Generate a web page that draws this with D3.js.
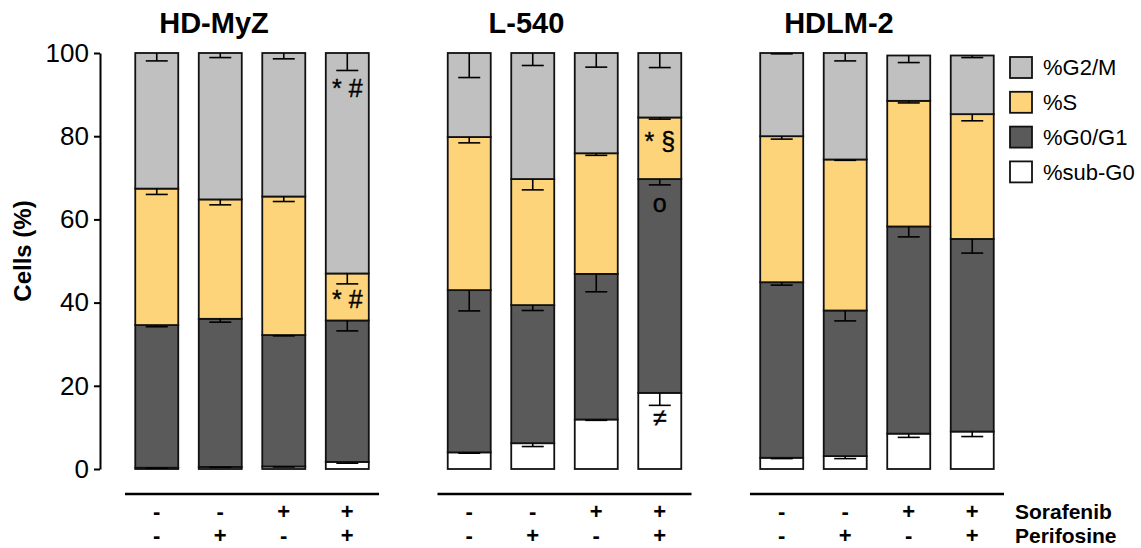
<!DOCTYPE html>
<html>
<head>
<meta charset="utf-8">
<script src="https://cdn.jsdelivr.net/npm/d3@7"></script>
<style>
  html, body { margin: 0; padding: 0; background: #fff; }
  svg { display: block; font-family: Arial, "Liberation Sans", sans-serif; }
</style>
</head>
<body>
<svg id="chart" width="1141" height="548"></svg>
<script>
// Cell lines (one panel each) and treatment conditions
const cellLines = ["HD-MyZ", "L-540", "HDLM-2"];
const conditions = ["c1", "c2", "c3", "c4"];
const sorafenib  = ["-", "-", "+", "+"];
const perifosine = ["-", "+", "-", "+"];

// Cell-cycle phases, stacked bottom to top
const phases = ["%sub-G0", "%G0/G1", "%S", "%G2/M"];
const legendOrder = ["%G2/M", "%S", "%G0/G1", "%sub-G0"];

// Mean % of cells per phase, [cell line][condition] -> [sub-G0, G0/G1, S, G2/M]
const subG0 = [[0.3, 0.5, 0.6, 1.7], [4.0, 6.2, 11.9, 18.3], [2.7, 3.1, 8.5, 9.0]];
const g0g1  = [[34.3, 35.6, 31.6, 34.0], [39.0, 33.2, 35.0, 51.4], [42.2, 35.0, 49.8, 46.3]];
const sPhase = [[32.8, 28.7, 33.3, 11.3], [36.8, 30.3, 29.0, 14.8], [35.1, 36.3, 30.2, 30.0]];
const g2m   = [[32.6, 35.2, 34.5, 53.0], [20.2, 30.3, 24.1, 15.5], [20.0, 25.6, 10.9, 14.1]];

// Standard deviations, same layout
const subG0Err = [[0.1, 0.1, 0.1, 0.3], [0.2, 0.8, 0.2, 3.0], [0.2, 0.6, 0.9, 1.2]];
const g0g1Err  = [[0.4, 0.8, 0.2, 2.5], [5.0, 1.3, 4.3, 1.4], [0.7, 2.5, 2.5, 3.4]];
const sErr     = [[1.4, 1.3, 1.2, 2.5], [1.4, 2.6, 0.5, 0.4], [0.7, 0.2, 0.5, 1.6]];
const g2mErr   = [[1.9, 1.1, 1.4, 4.2], [5.9, 3.0, 3.4, 3.5], [0.2, 1.9, 1.7, 0.5]];

// Significance marks: [cell line, condition, y value, text]
const marks = [
  ["HD-MyZ", 3, 91.6, "* #"],
  ["HD-MyZ", 3, 40.9, "* #"],
  ["L-540", 3, 78.7, "* §"],
  ["L-540", 3, 64.0, "o"],
  ["L-540", 3, 12.5, "≠"]
];

const yTicks = [0, 20, 40, 60, 80, 100];

const colors = {
  "%sub-G0": "#ffffff",
  "%G0/G1": "#5a5a5a",
  "%S": "#fed47a",
  "%G2/M": "#c0c0c0"
};

const svg = d3.select("#chart");

const y = d3.scaleLinear().domain([0, 100]).range([469, 53]);

const panelX = d3.scaleBand().domain(cellLines).range([125, 1004])
  .paddingInner(0.187).paddingOuter(0);

const barX = d3.scaleBand().domain(conditions).range([0, panelX.bandwidth()])
  .paddingInner(0.323).paddingOuter(0.1615);

const valueTable = [subG0, g0g1, sPhase, g2m];
const errTable = [subG0Err, g0g1Err, sErr, g2mErr];

// Y axis
const yAxis = svg.append("g")
  .attr("transform", "translate(100,0)")
  .call(d3.axisLeft(y).tickValues(yTicks).tickSize(6).tickSizeOuter(0).tickPadding(5));
yAxis.select(".domain").attr("stroke", "#000").attr("stroke-width", 2);
yAxis.selectAll(".tick line").attr("stroke", "#000").attr("stroke-width", 2);
yAxis.selectAll(".tick text").attr("font-size", 26).attr("fill", "#000")
  .attr("font-family", "Arial, 'Liberation Sans', sans-serif");

svg.append("text")
  .attr("transform", "translate(31,251) rotate(-90)")
  .attr("text-anchor", "middle")
  .attr("font-size", 24).attr("font-weight", "bold")
  .text("Cells (%)");

cellLines.forEach((cl, ci) => {
  const g = svg.append("g").attr("transform", `translate(${panelX(cl)},0)`);

  // panel title
  g.append("text")
    .attr("x", 89).attr("y", 33)
    .attr("text-anchor", "middle")
    .attr("font-size", 29).attr("font-weight", "bold")
    .text(cl);

  conditions.forEach((cond, k) => {
    const x0 = barX(cond);
    const bw = barX.bandwidth();
    let base = 0;
    const segs = phases.map((p, pi) => {
      const v = valueTable[pi][ci][k];
      const s = { phase: p, y0: base, y1: base + v, err: errTable[pi][ci][k] };
      base += v;
      return s;
    });

    const bar = g.append("g");
    bar.selectAll("rect").data(segs).join("rect")
      .attr("x", x0).attr("width", bw)
      .attr("y", d => y(d.y1))
      .attr("height", d => y(d.y0) - y(d.y1))
      .attr("fill", d => colors[d.phase])
      .attr("stroke", "#111").attr("stroke-width", 1.8);

    // error bars hanging down from each segment top
    const cx = x0 + bw / 2;
    const eb = bar.selectAll("g.err").data(segs).join("g").attr("class", "err");
    eb.append("line")
      .attr("x1", cx).attr("x2", cx)
      .attr("y1", d => y(d.y1)).attr("y2", d => y(d.y1 - d.err))
      .attr("stroke", "#000").attr("stroke-width", 1.6);
    eb.append("line")
      .attr("x1", cx - 11).attr("x2", cx + 11)
      .attr("y1", d => y(d.y1 - d.err)).attr("y2", d => y(d.y1 - d.err))
      .attr("stroke", "#000").attr("stroke-width", 1.6);

    // treatment signs
    g.append("text").attr("x", cx).attr("y", 519)
      .attr("text-anchor", "middle").attr("font-size", 22).attr("font-weight", "bold")
      .text(sorafenib[k]);
    g.append("text").attr("x", cx).attr("y", 543)
      .attr("text-anchor", "middle").attr("font-size", 22).attr("font-weight", "bold")
      .text(perifosine[k]);
  });

  // baseline rule under the panel
  g.append("line")
    .attr("x1", 0).attr("x2", panelX.bandwidth())
    .attr("y1", 494).attr("y2", 494)
    .attr("stroke", "#000").attr("stroke-width", 2.5);

  // significance marks
  marks.filter(m => m[0] === cl).forEach(m => {
    g.append("text")
      .attr("x", barX(conditions[m[1]]) + barX.bandwidth() / 2)
      .attr("y", y(m[2]))
      .attr("dy", "0.35em")
      .attr("text-anchor", "middle")
      .attr("font-size", 25)
      .attr("fill", "#000")
      .attr("stroke", "#000").attr("stroke-width", 0.4)
      .text(m[3]);
  });
});

// treatment labels
svg.append("text").attr("x", 1015).attr("y", 519)
  .attr("font-size", 21).attr("font-weight", "bold").text("Sorafenib");
svg.append("text").attr("x", 1015).attr("y", 543)
  .attr("font-size", 21).attr("font-weight", "bold").text("Perifosine");

// legend
const legend = svg.append("g").attr("transform", "translate(1010,57)");
const li = legend.selectAll("g").data(legendOrder).join("g")
  .attr("transform", (d, i) => `translate(0,${i * 34.8})`);
li.append("rect").attr("width", 22).attr("height", 21)
  .attr("fill", d => colors[d]).attr("stroke", "#111").attr("stroke-width", 1.8);
li.append("text").attr("x", 33).attr("y", 10.5).attr("dy", "0.36em")
  .attr("font-size", 22).text(d => d);
</script>
</body>
</html>
